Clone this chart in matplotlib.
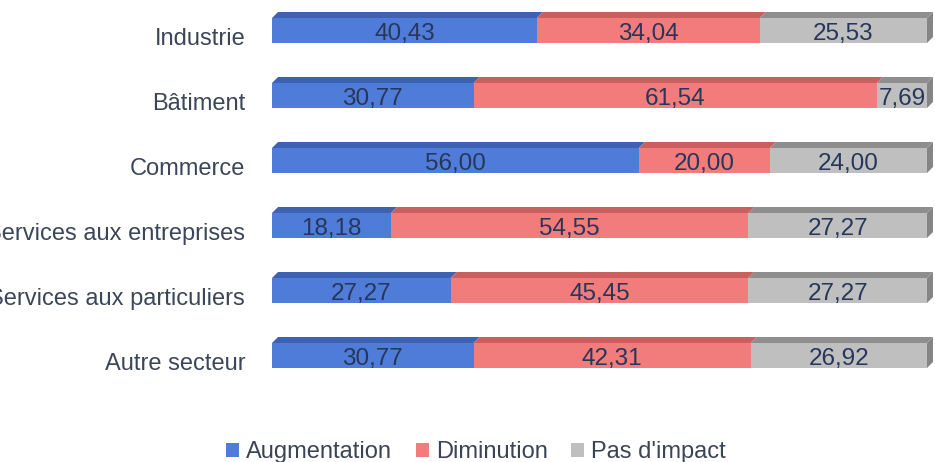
import matplotlib.pyplot as plt
from matplotlib.patches import Polygon, Patch

plt.rcParams['font.family'] = ['Liberation Sans', 'DejaVu Sans']

# Data
categories = ['Industrie', 'Bâtiment', 'Commerce', 'Services aux entreprises',
              'Services aux particuliers', 'Autre secteur']
augmentation = [40.43, 30.77, 56.00, 18.18, 27.27, 30.77]
diminution = [34.04, 61.54, 20.00, 54.55, 45.45, 42.31]
pas_impact = [25.53, 7.69, 24.00, 27.27, 27.27, 26.92]
series_names = ['Augmentation', 'Diminution', "Pas d'impact"]

front_colors = ['#4f7cd9', '#f27b7b', '#bfbfbf']
top_colors = ['#3d62b2', '#c9605e', '#8e8e8e']
side_color = '#858585'

fig = plt.figure(figsize=(9.35, 4.62), dpi=100)
# axes spans x pixels 272..927 and y pixels 0..400 (from top)
ax = fig.add_axes([272 / 935, 62 / 462, 655 / 935, 400 / 462])
ax.set_xlim(0, 100)
ax.set_ylim((400 - 30.5) / 65, -30.5 / 65)
ax.axis('off')

h = 25 / 65      # front face height
dy = 6 / 65      # depth in y
dx = 6 / 6.55    # depth in x

series = [augmentation, diminution, pas_impact]
for i, cat in enumerate(categories):
    left = 0
    for k, vals in enumerate(series):
        w = vals[i]
        ax.barh(i, w, left=left, height=h, color=front_colors[k], edgecolor='none')
        top = i - h / 2
        ax.add_patch(Polygon([(left, top), (left + w, top), (left + w + dx, top - dy),
                              (left + dx, top - dy)], closed=True,
                             facecolor=top_colors[k], edgecolor='none', clip_on=False))
        ax.text(left + w / 2, i + 0.05, f'{w:.2f}'.replace('.', ','), ha='center',
                va='center', fontsize=17.5, color='#27375a')
        left += w
    top = i - h / 2
    ax.add_patch(Polygon([(100, top), (100 + dx, top - dy), (100 + dx, i + h / 2 - dy),
                          (100, i + h / 2)], closed=True, facecolor=side_color,
                         edgecolor='none', clip_on=False))
    ax.text(-4.1, i + 0.13, cat, ha='right', va='center', fontsize=17,
            color='#3c4659', clip_on=False)

handles = [Patch(facecolor=c, edgecolor='none') for c in front_colors]
fig.legend(handles, series_names, loc='center', bbox_to_anchor=(476 / 935, 1 - 452 / 462),
           ncol=3, frameon=False, fontsize=17, handlelength=0.55, handleheight=0.55,
           handletextpad=0.3, columnspacing=1.0, labelcolor='#3b4456')

fig.savefig('out.png', dpi=100)
